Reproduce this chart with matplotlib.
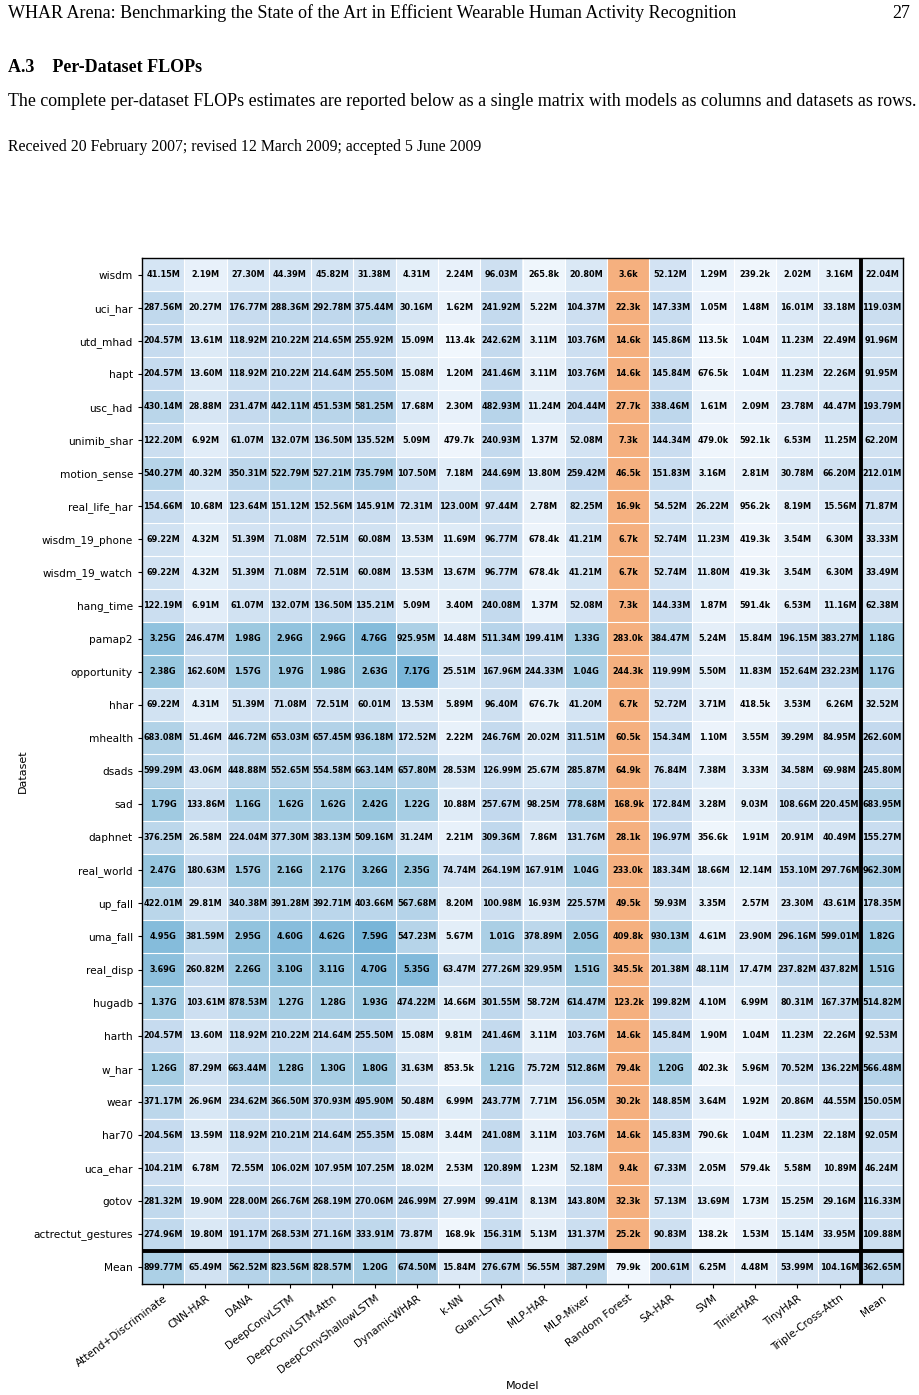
import matplotlib
matplotlib.use("Agg")
import matplotlib.pyplot as plt
import numpy as np

models = ["Attend+Discriminate", "CNN-HAR", "DANA", "DeepConvLSTM", "DeepConvLSTM-Attn",
          "DeepConvShallowLSTM", "DynamicWHAR", "k-NN", "Guan-LSTM", "MLP-HAR", "MLP-Mixer",
          "Random Forest", "SA-HAR", "SVM", "TinierHAR", "TinyHAR", "Triple-Cross-Attn", "Mean"]

datasets = ["wisdm", "uci_har", "utd_mhad", "hapt", "usc_had", "unimib_shar", "motion_sense",
            "real_life_har", "wisdm_19_phone", "wisdm_19_watch", "hang_time", "pamap2",
            "opportunity", "hhar", "mhealth", "dsads", "sad", "daphnet", "real_world", "up_fall",
            "uma_fall", "real_disp", "hugadb", "harth", "w_har", "wear", "har70", "uca_ehar",
            "gotov", "actrectut_gestures", "Mean"]

# FLOPs per dataset (row), one entry per model column
wisdm = "41.15M 2.19M 27.30M 44.39M 45.82M 31.38M 4.31M 2.24M 96.03M 265.8k 20.80M 3.6k 52.12M 1.29M 239.2k 2.02M 3.16M 22.04M"
uci_har = "287.56M 20.27M 176.77M 288.36M 292.78M 375.44M 30.16M 1.62M 241.92M 5.22M 104.37M 22.3k 147.33M 1.05M 1.48M 16.01M 33.18M 119.03M"
utd_mhad = "204.57M 13.61M 118.92M 210.22M 214.65M 255.92M 15.09M 113.4k 242.62M 3.11M 103.76M 14.6k 145.86M 113.5k 1.04M 11.23M 22.49M 91.96M"
hapt = "204.57M 13.60M 118.92M 210.22M 214.64M 255.50M 15.08M 1.20M 241.46M 3.11M 103.76M 14.6k 145.84M 676.5k 1.04M 11.23M 22.26M 91.95M"
usc_had = "430.14M 28.88M 231.47M 442.11M 451.53M 581.25M 17.68M 2.30M 482.93M 11.24M 204.44M 27.7k 338.46M 1.61M 2.09M 23.78M 44.47M 193.79M"
unimib_shar = "122.20M 6.92M 61.07M 132.07M 136.50M 135.52M 5.09M 479.7k 240.93M 1.37M 52.08M 7.3k 144.34M 479.0k 592.1k 6.53M 11.25M 62.20M"
motion_sense = "540.27M 40.32M 350.31M 522.79M 527.21M 735.79M 107.50M 7.18M 244.69M 13.80M 259.42M 46.5k 151.83M 3.16M 2.81M 30.78M 66.20M 212.01M"
real_life_har = "154.66M 10.68M 123.64M 151.12M 152.56M 145.91M 72.31M 123.00M 97.44M 2.78M 82.25M 16.9k 54.52M 26.22M 956.2k 8.19M 15.56M 71.87M"
wisdm_19_phone = "69.22M 4.32M 51.39M 71.08M 72.51M 60.08M 13.53M 11.69M 96.77M 678.4k 41.21M 6.7k 52.74M 11.23M 419.3k 3.54M 6.30M 33.33M"
wisdm_19_watch = "69.22M 4.32M 51.39M 71.08M 72.51M 60.08M 13.53M 13.67M 96.77M 678.4k 41.21M 6.7k 52.74M 11.80M 419.3k 3.54M 6.30M 33.49M"
hang_time = "122.19M 6.91M 61.07M 132.07M 136.50M 135.21M 5.09M 3.40M 240.08M 1.37M 52.08M 7.3k 144.33M 1.87M 591.4k 6.53M 11.16M 62.38M"
pamap2 = "3.25G 246.47M 1.98G 2.96G 2.96G 4.76G 925.95M 14.48M 511.34M 199.41M 1.33G 283.0k 384.47M 5.24M 15.84M 196.15M 383.27M 1.18G"
opportunity = "2.38G 162.60M 1.57G 1.97G 1.98G 2.63G 7.17G 25.51M 167.96M 244.33M 1.04G 244.3k 119.99M 5.50M 11.83M 152.64M 232.23M 1.17G"
hhar = "69.22M 4.31M 51.39M 71.08M 72.51M 60.01M 13.53M 5.89M 96.40M 676.7k 41.20M 6.7k 52.72M 3.71M 418.5k 3.53M 6.26M 32.52M"
mhealth = "683.08M 51.46M 446.72M 653.03M 657.45M 936.18M 172.52M 2.22M 246.76M 20.02M 311.51M 60.5k 154.34M 1.10M 3.55M 39.29M 84.95M 262.60M"
dsads = "599.29M 43.06M 448.88M 552.65M 554.58M 663.14M 657.80M 28.53M 126.99M 25.67M 285.87M 64.9k 76.84M 7.38M 3.33M 34.58M 69.98M 245.80M"
sad = "1.79G 133.86M 1.16G 1.62G 1.62G 2.42G 1.22G 10.88M 257.67M 98.25M 778.68M 168.9k 172.84M 3.28M 9.03M 108.66M 220.45M 683.95M"
daphnet = "376.25M 26.58M 224.04M 377.30M 383.13M 509.16M 31.24M 2.21M 309.36M 7.86M 131.76M 28.1k 196.97M 356.6k 1.91M 20.91M 40.49M 155.27M"
real_world = "2.47G 180.63M 1.57G 2.16G 2.17G 3.26G 2.35G 74.74M 264.19M 167.91M 1.04G 233.0k 183.34M 18.66M 12.14M 153.10M 297.76M 962.30M"
up_fall = "422.01M 29.81M 340.38M 391.28M 392.71M 403.66M 567.68M 8.20M 100.98M 16.93M 225.57M 49.5k 59.93M 3.35M 2.57M 23.30M 43.61M 178.35M"
uma_fall = "4.95G 381.59M 2.95G 4.60G 4.62G 7.59G 547.23M 5.67M 1.01G 378.89M 2.05G 409.8k 930.13M 4.61M 23.90M 296.16M 599.01M 1.82G"
real_disp = "3.69G 260.82M 2.26G 3.10G 3.11G 4.70G 5.35G 63.47M 277.26M 329.95M 1.51G 345.5k 201.38M 48.11M 17.47M 237.82M 437.82M 1.51G"
hugadb = "1.37G 103.61M 878.53M 1.27G 1.28G 1.93G 474.22M 14.66M 301.55M 58.72M 614.47M 123.2k 199.82M 4.10M 6.99M 80.31M 167.37M 514.82M"
harth = "204.57M 13.60M 118.92M 210.22M 214.64M 255.50M 15.08M 9.81M 241.46M 3.11M 103.76M 14.6k 145.84M 1.90M 1.04M 11.23M 22.26M 92.53M"
w_har = "1.26G 87.29M 663.44M 1.28G 1.30G 1.80G 31.63M 853.5k 1.21G 75.72M 512.86M 79.4k 1.20G 402.3k 5.96M 70.52M 136.22M 566.48M"
wear = "371.17M 26.96M 234.62M 366.50M 370.93M 495.90M 50.48M 6.99M 243.77M 7.71M 156.05M 30.2k 148.85M 3.64M 1.92M 20.86M 44.55M 150.05M"
har70 = "204.56M 13.59M 118.92M 210.21M 214.64M 255.35M 15.08M 3.44M 241.08M 3.11M 103.76M 14.6k 145.83M 790.6k 1.04M 11.23M 22.18M 92.05M"
uca_ehar = "104.21M 6.78M 72.55M 106.02M 107.95M 107.25M 18.02M 2.53M 120.89M 1.23M 52.18M 9.4k 67.33M 2.05M 579.4k 5.58M 10.89M 46.24M"
gotov = "281.32M 19.90M 228.00M 266.76M 268.19M 270.06M 246.99M 27.99M 99.41M 8.13M 143.80M 32.3k 57.13M 13.69M 1.73M 15.25M 29.16M 116.33M"
actrectut_gestures = "274.96M 19.80M 191.17M 268.53M 271.16M 333.91M 73.87M 168.9k 156.31M 5.13M 131.37M 25.2k 90.83M 138.2k 1.53M 15.14M 33.95M 109.88M"
mean_row = "899.77M 65.49M 562.52M 823.56M 828.57M 1.20G 674.50M 15.84M 276.67M 56.55M 387.29M 79.9k 200.61M 6.25M 4.48M 53.99M 104.16M 362.65M"

rows = [wisdm, uci_har, utd_mhad, hapt, usc_had, unimib_shar, motion_sense, real_life_har,
        wisdm_19_phone, wisdm_19_watch, hang_time, pamap2, opportunity, hhar, mhealth, dsads,
        sad, daphnet, real_world, up_fall, uma_fall, real_disp, hugadb, harth, w_har, wear,
        har70, uca_ehar, gotov, actrectut_gestures, mean_row]

units = {"k": 1e3, "M": 1e6, "G": 1e9}


def parse(s):
    return float(s[:-1]) * units[s[-1]]


def fmt(v):
    if v >= 1e9:
        return f"{v/1e9:.2f}G"
    if v >= 1e6:
        return f"{v/1e6:.2f}M"
    return f"{v/1e3:.1f}k"


vals = np.array([[parse(s) for s in r.split()] for r in rows])
n_rows, n_cols = vals.shape
rf_col = models.index("Random Forest")

# colour: log scale into the light part of Blues
lo, hi = np.log10(1e5), np.log10(8e9)
f = np.clip((np.log10(vals) - lo) / (hi - lo), 0, 1)
rgb = plt.cm.Blues(0.03 + 0.44 * f ** 1.8)
rgb[:-1, rf_col] = matplotlib.colors.to_rgba("#f5b07f")

fig = plt.figure(figsize=(9.19, 13.95), dpi=100)

# page text
serif = "Liberation Serif"
fig.text(8 / 919, 1 - 13 / 1395, "WHAR Arena: Benchmarking the State of the Art in Efficient Wearable Human Activity Recognition",
         family=serif, fontsize=13.0, va="center", ha="left")
fig.text(910 / 919, 1 - 13 / 1395, "27", family=serif, fontsize=13.0, va="center", ha="right")
fig.text(8 / 919, 1 - 68 / 1395, "A.3    Per-Dataset FLOPs", family=serif, fontsize=13.0,
         weight="bold", va="center", ha="left")
fig.text(8 / 919, 1 - 102 / 1395, "The complete per-dataset FLOPs estimates are reported below as a single matrix with models as columns and datasets as rows.",
         family=serif, fontsize=12.85, va="center", ha="left")
fig.text(8 / 919, 1 - 147 / 1395, "Received 20 February 2007; revised 12 March 2009; accepted 5 June 2009",
         family=serif, fontsize=11.3, va="center", ha="left")

ax = fig.add_axes([142 / 919, 1 - 1284 / 1395, 761 / 919, 1026 / 1395])
ax.imshow(rgb, aspect="auto", interpolation="nearest")

# white cell separators
for x in np.arange(-0.5, n_cols, 1):
    ax.axvline(x, color="white", lw=0.8)
for y in np.arange(-0.5, n_rows, 1):
    ax.axhline(y, color="white", lw=0.8)
ax.axvline(n_cols - 1.5, color="black", lw=2.8)
ax.axhline(n_rows - 1.5, color="black", lw=2.8)

for i in range(n_rows):
    for j in range(n_cols):
        ax.text(j, i, fmt(vals[i, j]), ha="center", va="center", fontsize=5.9,
                weight="bold", color="black")

ax.set_xticks(range(n_cols))
ax.set_xticklabels(models, rotation=37, ha="right", rotation_mode="anchor", fontsize=7.6)
ax.set_yticks(range(n_rows))
ax.set_yticklabels(datasets, fontsize=7.6)
ax.tick_params(length=3, width=0.8)
ax.set_xlim(-0.5, n_cols - 0.5)
ax.set_ylim(n_rows - 0.5, -0.5)
for sp in ax.spines.values():
    sp.set_linewidth(1.0)
ax.set_xlabel("Model", fontsize=8)
ax.set_ylabel("Dataset", fontsize=8)

fig.savefig("out.png", dpi=100)
